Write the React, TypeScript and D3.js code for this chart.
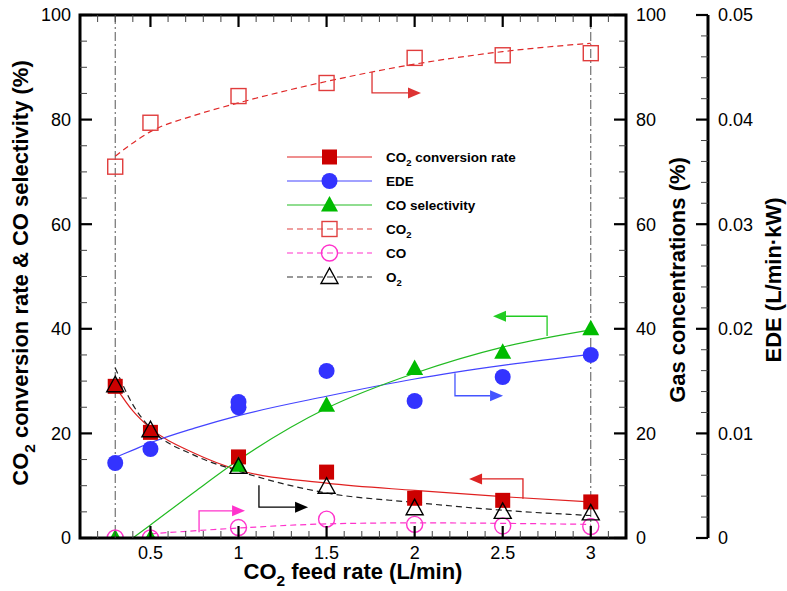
import React from 'react';
import * as d3 from 'd3';

// measured points
const feedRate = [0.3, 0.5, 1, 1.5, 2, 2.5, 3];
const co2Conversion = [29, 20.2, 15.5, 12.6, 7.6, 7.2, 6.9];
const coSelectivity = [0, 0, 13.9, 25.4, 32.4, 35.5, 40];
const co2Gas = [71, 79.4, 84.5, 87, 91.8, 92.3, 92.7];
const coGas = [0, 0, 2.0, 3.6, 2.6, 2.3, 2.2];
const o2Gas = [29.2, 20.6, 13.6, 9.8, 5.7, 5.0, 4.7];
const edeFeedRate = [0.3, 0.5, 1, 1, 1.5, 2, 2.5, 3];
const ede = [0.00717, 0.00851, 0.0125, 0.013, 0.01597, 0.0131, 0.01539, 0.0175];

// fitted curves
const fitX = [0.3, 0.4, 0.5, 0.75, 1, 1.5, 2, 2.5, 3];
const conversionFit = [29, 24.3, 21, 16.2, 13, 10.5, 9.1, 7.9, 6.9];
const edeFit = [0.0077, 0.0084, 0.0091, 0.0105, 0.0117, 0.01355, 0.0152, 0.0165, 0.01756];
const o2Fit = [32.5, 25.5, 21, 15.8, 12.8, 8.6, 6.8, 5.3, 4.3];
const selectivityFitX = [0.4, 0.5, 0.75, 1, 1.5, 2, 2.5, 3];
const selectivityFit = [0, 2.5, 8.8, 14.9, 24.8, 31.5, 36.5, 39.8];
const co2FitX = [0.3, 0.5, 0.75, 1, 1.5, 2, 2.5, 3];
const co2Fit = [73, 77.7, 80.8, 83.2, 87.3, 90.6, 93, 94.6];
const coFitX = [0.5, 1, 1.5, 2, 2.5, 3];
const coFit = [0.8, 1.9, 2.7, 2.9, 2.8, 2.6];

// axis ticks
const xMajor = [0.5, 1, 1.5, 2, 2.5, 3];
const xMajorLabels = ['0.5', '1', '1.5', '2', '2.5', '3'];
const pctMajor = [0, 20, 40, 60, 80, 100];
const edeMajor = [0, 0.01, 0.02, 0.03, 0.04, 0.05];
const edeLabels = ['0', '0.01', '0.02', '0.03', '0.04', '0.05'];

// annotation arrows [x0, y0, y1, x1] in data units (percent scale)
const arrows = [
  { pts: [1.758, 89.1, 85.1, 2.036], color: '#dd3333' },
  { pts: [2.229, 31.5, 27.2, 2.502], color: '#4455ff' },
  { pts: [2.752, 38.6, 42.4, 2.445], color: '#22cc22' },
  { pts: [2.615, 7.5, 11.3, 2.309], color: '#dd2222' },
  { pts: [1.116, 10.1, 5.9, 1.395], color: '#000000' },
  { pts: [0.776, 1.1, 5.2, 1.037], color: '#ff33cc' },
];

const W = 787;
const H = 591;
const L = 80, R = 626, T = 15, B = 538;
const EDE_X = 708;
const FONT = "'Liberation Sans', Arial, Helvetica, sans-serif";

const RED = '#cc0000';
const BLUE = '#3333ff';
const GREEN = '#00bb00';
const RED_LINE = '#e02020';
const PINK = '#ff33cc';

const x = d3.scaleLinear().domain([0.1, 3.2]).range([L, R]);
const y = d3.scaleLinear().domain([0, 100]).range([B, T]);
const yEde = d3.scaleLinear().domain([0, 0.05]).range([B, T]);

const curve = (xs: number[], vs: number[], sy: (v: number) => number) =>
  d3.line<number>().x((_, i) => x(xs[i])).y((v) => sy(v)).curve(d3.curveMonotoneX)(vs) || '';

type MarkerKind = 'square' | 'circle' | 'triangle';

const Marker = ({ kind, cx, cy, fill, stroke }: { kind: MarkerKind; cx: number; cy: number; fill: string; stroke: string }) => {
  const sw = fill === 'none' ? 1.4 : 0;
  if (kind === 'square') return <rect x={cx - 7.5} y={cy - 7.5} width={15} height={15} fill={fill} stroke={stroke} strokeWidth={sw} />;
  if (kind === 'circle') return <circle cx={cx} cy={cy} r={8} fill={fill} stroke={stroke} strokeWidth={sw} />;
  return (
    <polygon
      points={`${cx},${cy - 9} ${cx - 8.5},${cy + 6.5} ${cx + 8.5},${cy + 6.5}`}
      fill={fill}
      stroke={stroke}
      strokeWidth={sw}
    />
  );
};

// "CO" + subscript + rest, rest carried in its own tspan so it shifts back up
const SubText = ({ head, sub, rest, size }: { head: string; sub: string; rest: string; size: number }) => {
  const d = Math.round(size * 0.3);
  return (
    <>
      {head}
      {sub ? <tspan fontSize={size * 0.7} dy={d}>{sub}</tspan> : null}
      {sub && rest ? <tspan dy={-d}>{rest}</tspan> : rest}
    </>
  );
};

const legendItems = [
  { label: ['CO', '2', ' conversion rate'], kind: 'square' as MarkerKind, fill: RED, stroke: RED, line: RED_LINE, dash: '' },
  { label: ['EDE', '', ''], kind: 'circle' as MarkerKind, fill: BLUE, stroke: BLUE, line: '#4444ff', dash: '' },
  { label: ['CO selectivity', '', ''], kind: 'triangle' as MarkerKind, fill: GREEN, stroke: GREEN, line: '#22bb22', dash: '' },
  { label: ['CO', '2', ''], kind: 'square' as MarkerKind, fill: 'none', stroke: '#e04040', line: '#e04040', dash: '6,4' },
  { label: ['CO', '', ''], kind: 'circle' as MarkerKind, fill: 'none', stroke: PINK, line: PINK, dash: '6,4' },
  { label: ['O', '2', ''], kind: 'triangle' as MarkerKind, fill: 'none', stroke: '#000', line: '#333', dash: '6,4' },
];

export default function App() {
  const xMinor = d3.range(2, 32).map((i) => i / 10).filter((v) => !xMajor.some((m) => Math.abs(m - v) < 1e-6));
  const pctMinor = d3.range(0, 101, 5).filter((v) => v % 20 !== 0);
  const edeMinor = d3.range(0, 26).map((i) => i * 0.002).filter((v) => Math.round(v * 1000) % 10 !== 0);

  return (
    <svg width={W} height={H} style={{ position: 'absolute', left: 0, top: 0, background: '#fff' }} fontFamily={FONT}>
      <defs>
        <clipPath id="plot">
          <rect x={L} y={T} width={R - L} height={B - T} />
        </clipPath>
      </defs>

      {/* dash-dot guides */}
      {[0.3, 3].map((v) => (
        <line key={v} x1={x(v)} x2={x(v)} y1={T} y2={B} stroke="#555" strokeWidth={1} strokeDasharray="9,3,2,3" />
      ))}

      {/* fitted curves */}
      <g clipPath="url(#plot)" fill="none" strokeWidth={1.2}>
        <path d={curve(fitX, conversionFit, y)} stroke={RED_LINE} />
        <path d={curve(fitX, edeFit, yEde)} stroke="#4444ff" />
        <path d={curve(selectivityFitX, selectivityFit, y)} stroke="#22bb22" />
        <path d={curve(co2FitX, co2Fit, y)} stroke="#e02828" strokeDasharray="6,4" />
        <path d={curve(coFitX, coFit, y)} stroke={PINK} strokeDasharray="6,4" />
        <path d={curve(fitX, o2Fit, y)} stroke="#222" strokeDasharray="6,4" />
      </g>

      {/* arrows */}
      {arrows.map((a, i) => {
        const [x0, y0, y1, x1] = a.pts;
        const px0 = x(x0), py0 = y(y0), py1 = y(y1), px1 = x(x1);
        const dir = px1 > px0 ? 1 : -1;
        const hb = px1 - dir * 13;
        return (
          <g key={i}>
            <polyline points={`${px0},${py0} ${px0},${py1} ${hb},${py1}`} fill="none" stroke={a.color} strokeWidth={1.3} />
            <polygon points={`${px1},${py1} ${hb},${py1 - 5.5} ${hb},${py1 + 5.5}`} fill={a.color} />
          </g>
        );
      })}

      {/* markers */}
      <g clipPath="url(#plot)">
        {feedRate.map((f, i) => <Marker key={'a' + i} kind="square" cx={x(f)} cy={y(co2Conversion[i])} fill={RED} stroke={RED} />)}
        {edeFeedRate.map((f, i) => <Marker key={'b' + i} kind="circle" cx={x(f)} cy={yEde(ede[i])} fill={BLUE} stroke={BLUE} />)}
        {feedRate.map((f, i) => <Marker key={'c' + i} kind="triangle" cx={x(f)} cy={y(coSelectivity[i])} fill={GREEN} stroke={GREEN} />)}
        {feedRate.map((f, i) => <Marker key={'d' + i} kind="square" cx={x(f)} cy={y(co2Gas[i])} fill="none" stroke="#e03c3c" />)}
        {feedRate.map((f, i) => <Marker key={'e' + i} kind="circle" cx={x(f)} cy={y(coGas[i])} fill="none" stroke={PINK} />)}
        {feedRate.map((f, i) => <Marker key={'f' + i} kind="triangle" cx={x(f)} cy={y(o2Gas[i])} fill="none" stroke="#000" />)}
      </g>

      {/* frame */}
      <rect x={L} y={T} width={R - L} height={B - T} fill="none" stroke="#000" strokeWidth={3} />

      {/* x ticks bottom & top */}
      {xMajor.map((v) => (
        <g key={'xm' + v}>
          <line x1={x(v)} x2={x(v)} y1={B} y2={B - 12} stroke="#000" strokeWidth={2.2} />
          <line x1={x(v)} x2={x(v)} y1={T} y2={T + 12} stroke="#000" strokeWidth={2.2} />
        </g>
      ))}
      {xMinor.map((v) => (
        <g key={'xn' + v}>
          <line x1={x(v)} x2={x(v)} y1={B} y2={B - 7} stroke="#444" strokeWidth={1} />
          <line x1={x(v)} x2={x(v)} y1={T} y2={T + 7} stroke="#444" strokeWidth={1} />
        </g>
      ))}
      {xMajor.map((v, i) => (
        <text key={'xl' + v} x={x(v)} y={559} fontSize={18} textAnchor="middle">{xMajorLabels[i]}</text>
      ))}

      {/* left & right percent axes */}
      {pctMajor.map((v) => (
        <g key={'ym' + v}>
          <line x1={L} x2={L + 12} y1={y(v)} y2={y(v)} stroke="#000" strokeWidth={2.2} />
          <line x1={R} x2={R - 12} y1={y(v)} y2={y(v)} stroke="#000" strokeWidth={2.2} />
          <text x={71} y={y(v)} dy="0.35em" fontSize={18} textAnchor="end">{v}</text>
          <text x={636} y={y(v)} dy="0.35em" fontSize={18}>{v}</text>
        </g>
      ))}
      {pctMinor.map((v) => (
        <g key={'yn' + v}>
          <line x1={L} x2={L + 7} y1={y(v)} y2={y(v)} stroke="#444" strokeWidth={1} />
          <line x1={R} x2={R - 7} y1={y(v)} y2={y(v)} stroke="#444" strokeWidth={1} />
        </g>
      ))}

      {/* EDE axis */}
      <line x1={EDE_X} x2={EDE_X} y1={T} y2={B} stroke="#000" strokeWidth={3} />
      {edeMajor.map((v, i) => (
        <g key={'em' + i}>
          <line x1={EDE_X} x2={EDE_X - 12} y1={yEde(v)} y2={yEde(v)} stroke="#000" strokeWidth={2.2} />
          <text x={718} y={yEde(v)} dy="0.35em" fontSize={18}>{edeLabels[i]}</text>
        </g>
      ))}
      {edeMinor.map((v, i) => (
        <line key={'en' + i} x1={EDE_X} x2={EDE_X - 7} y1={yEde(v)} y2={yEde(v)} stroke="#444" strokeWidth={1} />
      ))}

      {/* axis titles */}
      <text x={353} y={579} fontSize={22} fontWeight="bold" textAnchor="middle">
        <SubText head="CO" sub="2" rest=" feed rate (L/min)" size={22} />
      </text>
      <text transform="translate(28,273) rotate(-90)" fontSize={22} fontWeight="bold" textAnchor="middle">
        <SubText head="CO" sub="2" rest=" conversion rate & CO selectivity (%)" size={22} />
      </text>
      <text transform="translate(685,280) rotate(-90)" fontSize={22} fontWeight="bold" textAnchor="middle">
        Gas concentrations (%)
      </text>
      <text transform="translate(781,280) rotate(-90)" fontSize={22} fontWeight="bold" textAnchor="middle">
        EDE (L/min·kW)
      </text>

      {/* legend */}
      {legendItems.map((d, i) => {
        const ly = 157 + i * 24;
        return (
          <g key={'lg' + i}>
            <line x1={287} x2={372} y1={ly} y2={ly} stroke={d.line} strokeWidth={1.2} strokeDasharray={d.dash || undefined} />
            <Marker kind={d.kind} cx={329.5} cy={ly} fill={d.fill} stroke={d.stroke} />
            <text x={386} y={ly} dy="0.35em" fontSize={13.5} fontWeight="bold">
              <SubText head={d.label[0]} sub={d.label[1]} rest={d.label[2]} size={13.5} />
            </text>
          </g>
        );
      })}
    </svg>
  );
}
